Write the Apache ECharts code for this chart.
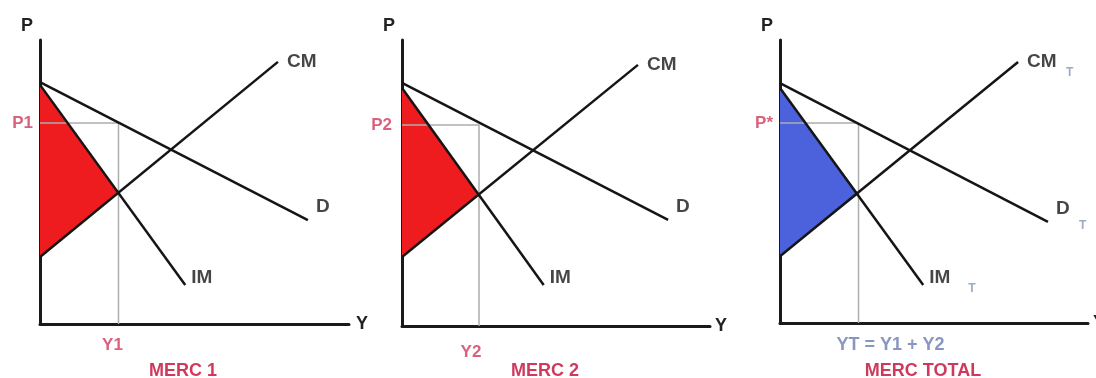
<!DOCTYPE html>
<html><head><meta charset="utf-8">
<script src="https://cdn.jsdelivr.net/npm/echarts@6/dist/echarts.min.js"></script>
<style>html,body{margin:0;padding:0;background:#fff}#c{width:1096px;height:378px}</style>
</head><body><div id="c"></div>
<script>
// ---- DATA (values in chart units: quantity 0..100, price 0..100) ----
const panelTitles = ['MERC 1', 'MERC 2', 'MERC TOTAL'];
const priceLabels = ['P1', 'P2', 'P*'];
const qtyLabels = ['Y1', 'Y2', 'YT = Y1 + Y2'];
const demandNames = ['D', 'D', 'D'];
const costNames = ['CM', 'CM', 'CM'];
const revenueNames = ['IM', 'IM', 'IM'];
const subscripts = ['', '', 'T'];

// demand curves (start, end)
const demand1 = [[0, 85.2], [86.7, 36.6]];
const demand2 = [[0, 85.0], [86.4, 37.1]];
const demandT = [[0, 84.8], [87.0, 35.7]];
// marginal cost curves
const cost1 = [[0, 23.6], [77.0, 92.3]];
const cost2 = [[0, 24.1], [76.6, 91.3]];
const costT = [[0, 23.6], [77.3, 92.2]];
// marginal revenue curves
const revenue1 = [[0, 84.2], [47.0, 13.7]];
const revenue2 = [[0, 83.2], [46.0, 14.3]];
const revenueT = [[0, 83.0], [46.5, 13.4]];
// optimum quantity, marginal cost at optimum, price
const optQty = [25.4, 25.0, 25.5];
const optCost = [46.1, 45.9, 45.6];
const optPrice = [70.8, 70.3, 70.7];

const demands = [demand1, demand2, demandT];
const costs = [cost1, cost2, costT];
const revenues = [revenue1, revenue2, revenueT];

// ---- LAYOUT ----
const grids = [
  {left: 40, top: 40, width: 309, height: 284},
  {left: 402, top: 40, width: 308, height: 286},
  {left: 780, top: 40, width: 308, height: 283}
];
const fills = ['#ee1c1f', '#ee1c1f', '#4c62dc'];
const redText = '#cf3a5c';
const FONT = '"Liberation Sans", Arial, sans-serif';
const qtyLabelStyle = [
  {offset: [-6, 0], distance: 13, color: redText},
  {offset: [-8, 0], distance: 18, color: redText},
  {offset: [32, 0], distance: 13, color: '#6b7cb0'}
];
const priceLabelDist = [7, 10, 7];
const titleX = [178, 540, 918];
const yNameGap = [7, 5, 5];

const series = [];
const xAxes = [], yAxes = [];
const titles = [];

for (let i = 0; i < 3; i++) {
  xAxes.push({
    gridIndex: i, type: 'value', min: 0, max: 100,
    axisLine: {show: true, onZero: false, lineStyle: {color: '#1a1a1a', width: 3}},
    axisTick: {show: false}, axisLabel: {show: false}, splitLine: {show: false},
    name: 'Y', nameLocation: 'end', nameGap: yNameGap[i],
    nameTextStyle: {fontFamily: FONT, fontSize: 18, fontWeight: 'bold', color: '#222'}
  });
  yAxes.push({
    gridIndex: i, type: 'value', min: 0, max: 100,
    axisLine: {show: true, onZero: false, lineStyle: {color: '#1a1a1a', width: 3}},
    axisTick: {show: false}, axisLabel: {show: false}, splitLine: {show: false},
    name: 'P', nameLocation: 'end', nameGap: 5,
    nameTextStyle: {fontFamily: FONT, fontSize: 18, fontWeight: 'bold', color: '#222', align: 'right', padding: [0, 7, 0, 0]}
  });

  const tri = [revenues[i][0], [optQty[i], optCost[i]], costs[i][0]];
  // shaded surplus triangle
  series.push({
    type: 'custom', xAxisIndex: i, yAxisIndex: i, z: 1,
    data: tri,
    encode: {x: 0, y: 1},
    renderItem: (function (pts, col) {
      return function (params, api) {
        if (params.dataIndex !== 0) return null;
        return {type: 'polygon', shape: {points: pts.map(p => api.coord(p))}, style: {fill: col}};
      };
    })(tri, fills[i]),
    silent: true
  });
  // guide lines
  series.push({
    type: 'line', xAxisIndex: i, yAxisIndex: i, z: 2, showSymbol: false, silent: true,
    data: [[0, optPrice[i]], [optQty[i], optPrice[i]], [optQty[i], 0]],
    lineStyle: {color: '#adadad', width: 1.5}
  });
  // curves
  [demands[i], costs[i], revenues[i]].forEach(function (c) {
    series.push({
      type: 'line', xAxisIndex: i, yAxisIndex: i, z: 3, showSymbol: false, silent: true,
      data: c,
      lineStyle: {color: '#151515', width: 2.5}
    });
  });
  // curve names (and subscripts for the total market)
  const curveLabel = function (txt, dist, off) {
    return {show: true, position: 'right', distance: dist, offset: off, formatter: txt,
      fontFamily: FONT, fontSize: 19, fontWeight: 'bold', color: '#161616'};
  };
  const names = [
    {value: demands[i][1], label: curveLabel(demandNames[i], 8, [0, -13])},
    {value: costs[i][1], label: curveLabel(costNames[i], 9, [0, 0])},
    {value: revenues[i][1], label: curveLabel(revenueNames[i], 6, [0, -7])}
  ];
  const sub = subscripts[i];
  if (sub) {
    const subStyle = function (dist, off) {
      return {show: true, position: 'right', distance: dist, offset: off, formatter: sub,
        fontFamily: FONT, fontSize: 12, fontWeight: 'bold', color: '#8595b5'};
    };
    names.push({value: demands[i][1], label: subStyle(31, [0, 4])});
    names.push({value: costs[i][1], label: subStyle(48, [0, 11])});
    names.push({value: revenues[i][1], label: subStyle(45, [0, 4])});
  }
  series.push({
    type: 'scatter', xAxisIndex: i, yAxisIndex: i, symbolSize: 0, silent: true, z: 4,
    data: names
  });
  // P and Y value labels
  series.push({
    type: 'scatter', xAxisIndex: i, yAxisIndex: i, symbolSize: 0, silent: true, z: 4,
    data: [
      {value: [0, optPrice[i]], label: {show: true, position: 'left', distance: priceLabelDist[i],
        formatter: priceLabels[i], fontFamily: FONT, fontSize: 17, fontWeight: 'bold', color: redText}},
      {value: [optQty[i], 0], label: {show: true, position: 'bottom', distance: qtyLabelStyle[i].distance,
        offset: qtyLabelStyle[i].offset, formatter: qtyLabels[i], fontFamily: FONT, fontSize: i === 2 ? 18 : 17,
        fontWeight: 'bold', color: qtyLabelStyle[i].color}}
    ]
  });
  titles.push({
    text: panelTitles[i], left: titleX[i], top: 357, textAlign: 'center',
    textStyle: {fontFamily: FONT, fontSize: 18, fontWeight: 'bold', color: redText}
  });
}

const chart = echarts.init(document.getElementById('c'), null, {renderer: 'canvas'});
chart.setOption({
  animation: false,
  backgroundColor: '#ffffff',
  title: titles,
  grid: grids.map(g => Object.assign({containLabel: false, outerBoundsMode: 'none'}, g)),
  xAxis: xAxes,
  yAxis: yAxes,
  series: series
});
</script></body></html>
